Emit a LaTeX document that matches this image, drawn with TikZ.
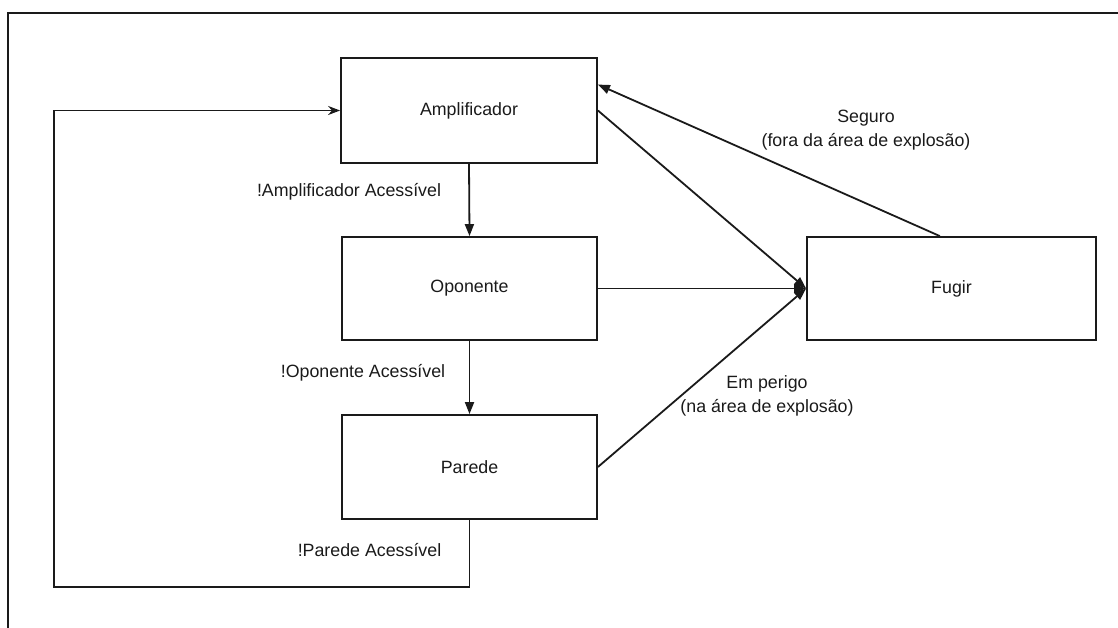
\documentclass[tikz,border=0pt]{standalone}
\usepackage{fontspec}
\setmainfont{Liberation Sans}
\usetikzlibrary{arrows.meta,calc}
\definecolor{ink}{HTML}{1A1A1A}
\tikzset{
  statebox/.style={draw=ink, line width=1.8pt, rectangle, inner sep=0pt,
    minimum width=#1, minimum height=104pt, font=\fontsize{17.8}{23.5}\selectfont, text=ink},
  statebox/.default=255pt,
  flow/.style={draw=ink, line width=1.8pt, -{Triangle[length=12pt,width=9pt]}},
  back/.style={draw=ink, line width=1.8pt, -{Stealth[length=12pt,width=9pt]}},
  lbl/.style={font=\fontsize{17.8}{23.5}\selectfont, text=ink, inner sep=0pt, align=center},
  frame/.style={draw=ink, line width=2.8pt}
}
\begin{document}
\begin{tikzpicture}[x=1pt, y=-1pt]
  \useasboundingbox (0,0) rectangle (1118,628);
  % outer frame (top and left edges)
  \draw[frame] (8,628) -- (8,13) -- (1118,13);

  % states
  \node[statebox=256pt, minimum height=105pt] (amp) at (469,110.5) {Amplificador};
  \node[statebox, minimum height=103pt] (opo) at (469.5,288.5) {Oponente};
  \node[statebox] (par) at (469.5,467) {Parede};
  \node[statebox=289pt, minimum height=103pt] (fug) at (951.5,288.5) {Fugir};

  % loop back to the first state
  \coordinate (lb) at (54,587);
  \draw[back] (par.south) |- (lb) |- (amp.west);

  % transitions down the chain
  \draw[flow] (amp.south) -- (opo.north);
  \draw[flow] (opo.south) -- (par.north);

  % transitions into Fugir
  \draw[flow] (amp.east) -- (fug.west);
  \draw[flow] (opo.east) -- (fug.west);
  \draw[flow] (par.east) -- (fug.west);

  % return from Fugir
  \coordinate (fugout) at ($(fug.north west)!0.46!(fug.north east)$);
  \coordinate (ampin) at ($(amp.north east)!0.257!(amp.south east)$);
  \draw[flow] (fugout) -- (ampin);

  % labels
  \node[lbl] (l1) at (349,192) {!Amplificador Acessível};
  \node[lbl] (l2) at (363,373) {!Oponente Acessível};
  \node[lbl] (l3) at (369.5,550) {!Parede Acessível};
  \node[lbl] (l4) at (866,130) {Seguro\\(fora da área de explosão)};
  \node[lbl] (l5) at (767,396) {Em perigo\\(na área de explosão)};
\end{tikzpicture}
\end{document}
